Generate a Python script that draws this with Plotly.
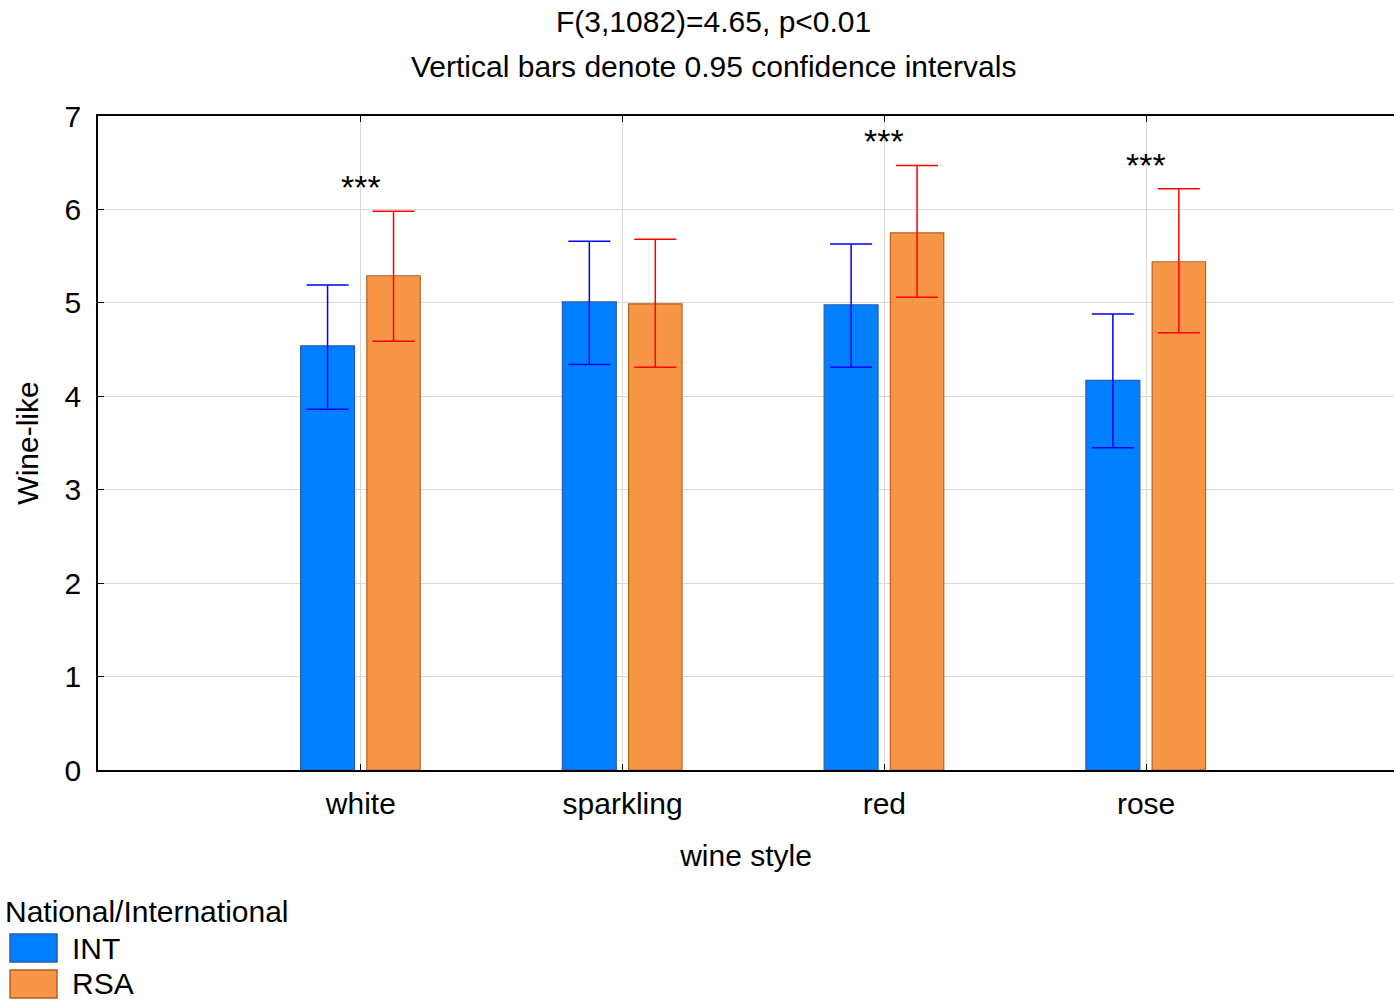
import plotly.graph_objects as go

categories = ["white", "sparkling", "red", "rose"]
int_means = [4.54, 5.01, 4.98, 4.17]
int_upper = [5.19, 5.66, 5.63, 4.88]
int_lower = [3.86, 4.34, 4.31, 3.45]
rsa_means = [5.29, 4.99, 5.75, 5.44]
rsa_upper = [5.98, 5.68, 6.47, 6.22]
rsa_lower = [4.59, 4.31, 5.06, 4.68]
signif = ["***", "", "***", "***"]
y_ticks = [0, 1, 2, 3, 4, 5, 6, 7]
series_names = ["INT", "RSA"]
series_fill = ["#0080FF", "#F79646"]
series_edge = ["#2a5db0", "#B8601E"]
legend_title = "National/International"

W, H = 1394, 1000
L, R, T, B = 98, 0, 116, 230
PW, PH = W - L - R, H - T - B
FONT = "Liberation Sans, Arial, sans-serif"
FS = 30


def px_x(p):
    return (p - L) / PW


def px_y(p):
    return (H - B - p) / PH


fig = go.Figure()
fig.add_trace(go.Bar(
    name=series_names[0], x=categories, y=int_means,
    width=0.206, offset=-0.23,
    marker=dict(color=series_fill[0], line=dict(color=series_edge[0], width=1.2)),
    error_y=dict(type="data", symmetric=False,
                 array=[u - m for u, m in zip(int_upper, int_means)],
                 arrayminus=[m - l for m, l in zip(int_means, int_lower)],
                 color="#0000FF", thickness=1.5, width=21),
))
fig.add_trace(go.Bar(
    name=series_names[1], x=categories, y=rsa_means,
    width=0.204, offset=0.023,
    marker=dict(color=series_fill[1], line=dict(color=series_edge[1], width=1.2)),
    error_y=dict(type="data", symmetric=False,
                 array=[u - m for u, m in zip(rsa_upper, rsa_means)],
                 arrayminus=[m - l for m, l in zip(rsa_means, rsa_lower)],
                 color="#FF0000", thickness=1.5, width=21),
))

for c, s, u in zip(categories, signif, rsa_upper):
    if s:
        fig.add_annotation(x=c, y=u + 0.26, text=s, showarrow=False,
                           xref="x", yref="y", yanchor="middle",
                           font=dict(size=34, color="#000000", family=FONT))

fig.add_annotation(x=px_x(713), y=px_y(22), xref="paper", yref="paper",
                   text="F(3,1082)=4.65, p<0.01", showarrow=False,
                   yanchor="middle", font=dict(size=FS, color="#000000", family=FONT))
fig.add_annotation(x=px_x(713), y=px_y(66), xref="paper", yref="paper",
                   text="Vertical bars denote 0.95 confidence intervals",
                   showarrow=False, yanchor="middle",
                   font=dict(size=FS, color="#000000", family=FONT))

# legend (drawn in paper space)
fig.add_annotation(x=px_x(3), y=px_y(911), xref="paper", yref="paper",
                   text=legend_title, showarrow=False, xanchor="left",
                   yanchor="middle", font=dict(size=FS, color="#000000", family=FONT))
for i, (nm, fc, ec) in enumerate(zip(series_names, series_fill, series_edge)):
    yc = 948 + 36 * i
    fig.add_shape(type="rect", xref="paper", yref="paper",
                  x0=px_x(10), x1=px_x(57), y0=px_y(yc - 14), y1=px_y(yc + 14),
                  fillcolor=fc, line=dict(color=ec, width=1.5))
    fig.add_annotation(x=px_x(70), y=px_y(yc), xref="paper", yref="paper",
                       text=nm, showarrow=False, xanchor="left", yanchor="middle",
                       font=dict(size=FS, color="#000000", family=FONT))

fig.update_layout(
    width=W, height=H,
    margin=dict(l=L, r=R, t=T, b=B, autoexpand=False),
    plot_bgcolor="white", paper_bgcolor="white",
    font=dict(family=FONT, size=FS, color="#000000"),
    barmode="group",
    showlegend=False,
    xaxis=dict(
        range=[-1.004, 3.947], showgrid=True, gridcolor="#D9D9D9", gridwidth=1.2,
        showline=True, linecolor="#000000", linewidth=1.5, mirror="ticks",
        ticks="inside", ticklen=6, tickcolor="#000000",
        tickfont=dict(size=FS), ticklabelstandoff=6,
        title=dict(text="wine style", font=dict(size=FS), standoff=26),
    ),
    yaxis=dict(
        range=[0, 7], tickvals=y_ticks, showgrid=True, gridcolor="#D9D9D9",
        gridwidth=1.2, showline=True, linecolor="#000000", linewidth=1.5,
        mirror=False, ticks="inside", ticklen=6, tickcolor="#000000",
        tickfont=dict(size=FS), ticklabelstandoff=9, zeroline=False,
        title=dict(text="Wine-like", font=dict(size=FS), standoff=17),
    ),
)

fig.write_html("out.html", config={"displayModeBar": False},
               post_script="document.body.style.margin='0px';"
                           "document.body.style.overflow='hidden';")
